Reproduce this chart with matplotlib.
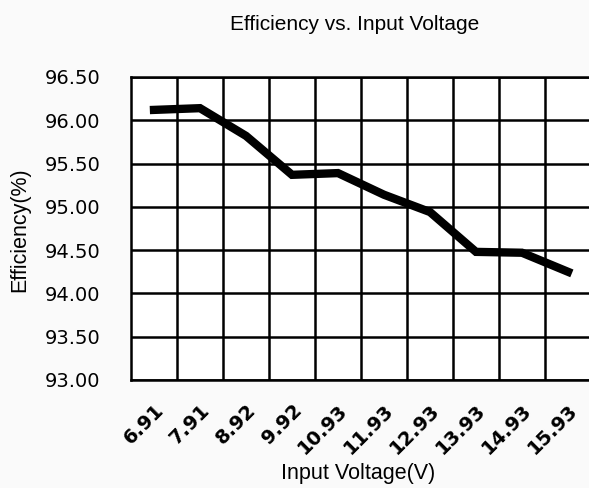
import matplotlib
matplotlib.use('Agg')
import matplotlib.pyplot as plt
from matplotlib.ticker import FixedLocator

# data
voltages = ['6.91', '7.91', '8.92', '9.92', '10.93', '11.93', '12.93', '13.93', '14.93', '15.93']
efficiency = [96.12, 96.14, 95.82, 95.37, 95.39, 95.14, 94.94, 94.48, 94.47, 94.25]
y_ticks = [93.00, 93.50, 94.00, 94.50, 95.00, 95.50, 96.00, 96.50]

narrow = ['Liberation Sans', 'DejaVu Sans']

fig = plt.figure(figsize=(5.89, 4.88), dpi=100, facecolor='#fafafa')
ax = fig.add_axes([131/589, 108/488, 460/589, 303/488])
ax.set_facecolor('white')

x = list(range(len(voltages)))
ax.plot(x, efficiency, color='black', lw=6, solid_joinstyle='miter', zorder=3)

ax.set_xlim(-0.5, len(voltages) - 0.5)
ax.set_ylim(93.0, 96.5)
ax.set_yticks(y_ticks)
ax.set_yticklabels(['%.2f' % v for v in y_ticks], fontsize=14)
ax.set_xticks(x)
ax.set_xticklabels(voltages, rotation=45, ha='right', va='top', rotation_mode='anchor',
                   fontsize=14, fontweight='bold')
ax.xaxis.set_minor_locator(FixedLocator([i + 0.5 for i in x]))

ax.grid(axis='y', which='major', color='black', lw=1.8)
ax.grid(axis='x', which='minor', color='black', lw=1.8)
ax.tick_params(axis='both', which='both', length=0)
ax.tick_params(axis='y', pad=22)
ax.tick_params(axis='x', pad=15)
for s in ax.spines.values():
    s.set_color('black')
    s.set_linewidth(1.8)

fig.text(355/589, 1 - 25/488, 'Efficiency vs. Input Voltage', ha='center', va='center',
         fontsize=15, family=narrow)
fig.text(358/589, 1 - 474/488, 'Input Voltage(V)', ha='center', va='center',
         fontsize=15.5, family=narrow)
fig.text(20/589, 1 - 230/488, 'Efficiency(%)', ha='center', va='center', rotation=90,
         fontsize=15.5, family=narrow)

fig.savefig('out.png', dpi=100, facecolor=fig.get_facecolor())
